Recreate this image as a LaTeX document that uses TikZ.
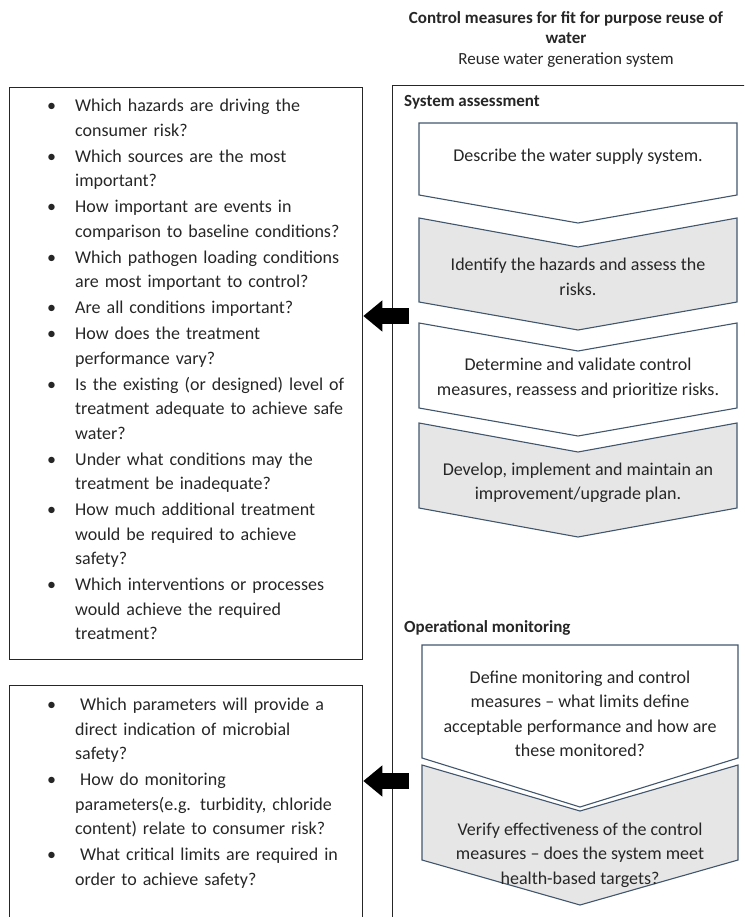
\documentclass[tikz,border=0pt]{standalone}
\usepackage{fontspec}
\setmainfont{Carlito}
\usetikzlibrary{arrows.meta}
\definecolor{stepline}{HTML}{41566D}
\definecolor{stepfill}{HTML}{E6E6E6}
\newenvironment{questions}{\begin{list}{\textbullet}{\setlength{\leftmargin}{29pt}\setlength{\labelwidth}{10pt}\setlength{\labelsep}{19pt}\setlength{\itemsep}{1.5pt}\setlength{\parsep}{0pt}\setlength{\topsep}{0pt}\setlength{\partopsep}{0pt}}}{\end{list}}
\tikzset{box/.style={draw=black!85,line width=1.3pt},
qtext/.style={text width=320pt,align=left,inner sep=0pt,font=\fontsize{18}{24.5}\selectfont,text=black!85},
stepbox/.style={draw=stepline,line width=1.1pt,fill=white},
stepgrey/.style={stepbox,fill=stepfill},
steptext/.style={align=center,inner sep=0pt,font=\fontsize{18}{24.5}\selectfont,text=black!85},
head/.style={font=\bfseries\fontsize{17}{20}\selectfont,inner sep=0pt,text=black!85},
pointer/.style={line width=16pt,-{Triangle[length=19pt,width=30pt]}}}

\begin{document}
\begin{tikzpicture}[x=1pt,y=-1pt]
\useasboundingbox (0,0) rectangle (744,917);
\clip (0,0) rectangle (744,917);
% title
\node[head,align=center] (title) at (566,28) {Control measures for fit for purpose reuse of\\water};
\node[font=\fontsize{17}{20}\selectfont,text=black!85,inner sep=0pt] (subtitle) at (566,60) {Reuse water generation system};
% generation system frame
\node[box,anchor=north west,minimum width=380pt,minimum height=860pt] (system) at (392,85) {};
\node[head,anchor=west] (assess) at (404,102) {System assessment};
\node[head,anchor=west] (operate) at (404,628) {Operational monitoring};
% system assessment steps
\path[stepbox] (419,123) -- (737,123) -- (737,195) -- (578,223) -- (419,195) -- cycle;
\node[steptext] (describe) at (578,157) {Describe the water supply system.};
\path[stepgrey] (419,218) -- (578,247) -- (737,218) -- (737,302) -- (578,330) -- (419,302) -- cycle;
\node[steptext] (identify) at (578,277) {Identify the hazards and assess the\\risks.};
\path[stepbox] (419,323) -- (578,351) -- (737,323) -- (737,408) -- (578,436) -- (419,408) -- cycle;
\node[steptext] (validate) at (578,378) {Determine and validate control\\measures, reassess and prioritize risks.};
\path[stepgrey] (419,423) -- (578,452) -- (737,423) -- (737,508) -- (578,537) -- (419,508) -- cycle;
\node[steptext] (upgrade) at (578,483) {Develop, implement and maintain an\\improvement/upgrade plan.};
% operational monitoring steps
\path[stepbox] (422,645) -- (738,645) -- (738,758) -- (580,807) -- (422,758) -- cycle;
\node[steptext] (define) at (580,714) {Define monitoring and control\\measures -- what limits define\\acceptable performance and how are\\these monitored?};
\path[stepgrey] (422,765) -- (580,811) -- (738,765) -- (738,860) -- (580,905) -- (422,860) -- cycle;
\node[steptext] (verify) at (580,855) {Verify effectiveness of the control\\measures -- does the system meet\\health-based targets?};
% question boxes
\node[box,anchor=north west,minimum width=353pt,minimum height=572pt] (risk) at (9,87) {};
\node[qtext,anchor=north west] (risklist) at (46,87) {\begin{questions}
\item Which hazards are driving the\\consumer risk?
\item Which sources are the most\\important?
\item How important are events in\\comparison to baseline conditions?
\item Which pathogen loading conditions\\are most important to control?
\item Are all conditions important?
\item How does the treatment\\performance vary?
\item Is the existing (or designed) level of\\treatment adequate to achieve safe\\water?
\item Under what conditions may the\\treatment be inadequate?
\item How much additional treatment\\would be required to achieve\\safety?
\item Which interventions or processes\\would achieve the required\\treatment?
\end{questions}};
\node[box,anchor=north west,minimum width=353pt,minimum height=260pt] (monitor) at (9,685) {};
\node[qtext,anchor=north west] (monitorlist) at (46,686) {\begin{questions}
\item \hspace{5pt}Which parameters will provide a\\direct indication of microbial\\safety?
\item \hspace{5pt}How do monitoring\\parameters(e.g. turbidity, chloride\\content) relate to consumer risk?
\item \hspace{5pt}What critical limits are required in\\order to achieve safety?
\end{questions}};
% arrows to the questions
\coordinate (tail1) at (409,316);
\draw[pointer] (tail1) -- (risk.east |- tail1);
\coordinate (tail2) at (409,781);
\draw[pointer] (tail2) -- (monitor.east |- tail2);
\end{tikzpicture}
\end{document}
